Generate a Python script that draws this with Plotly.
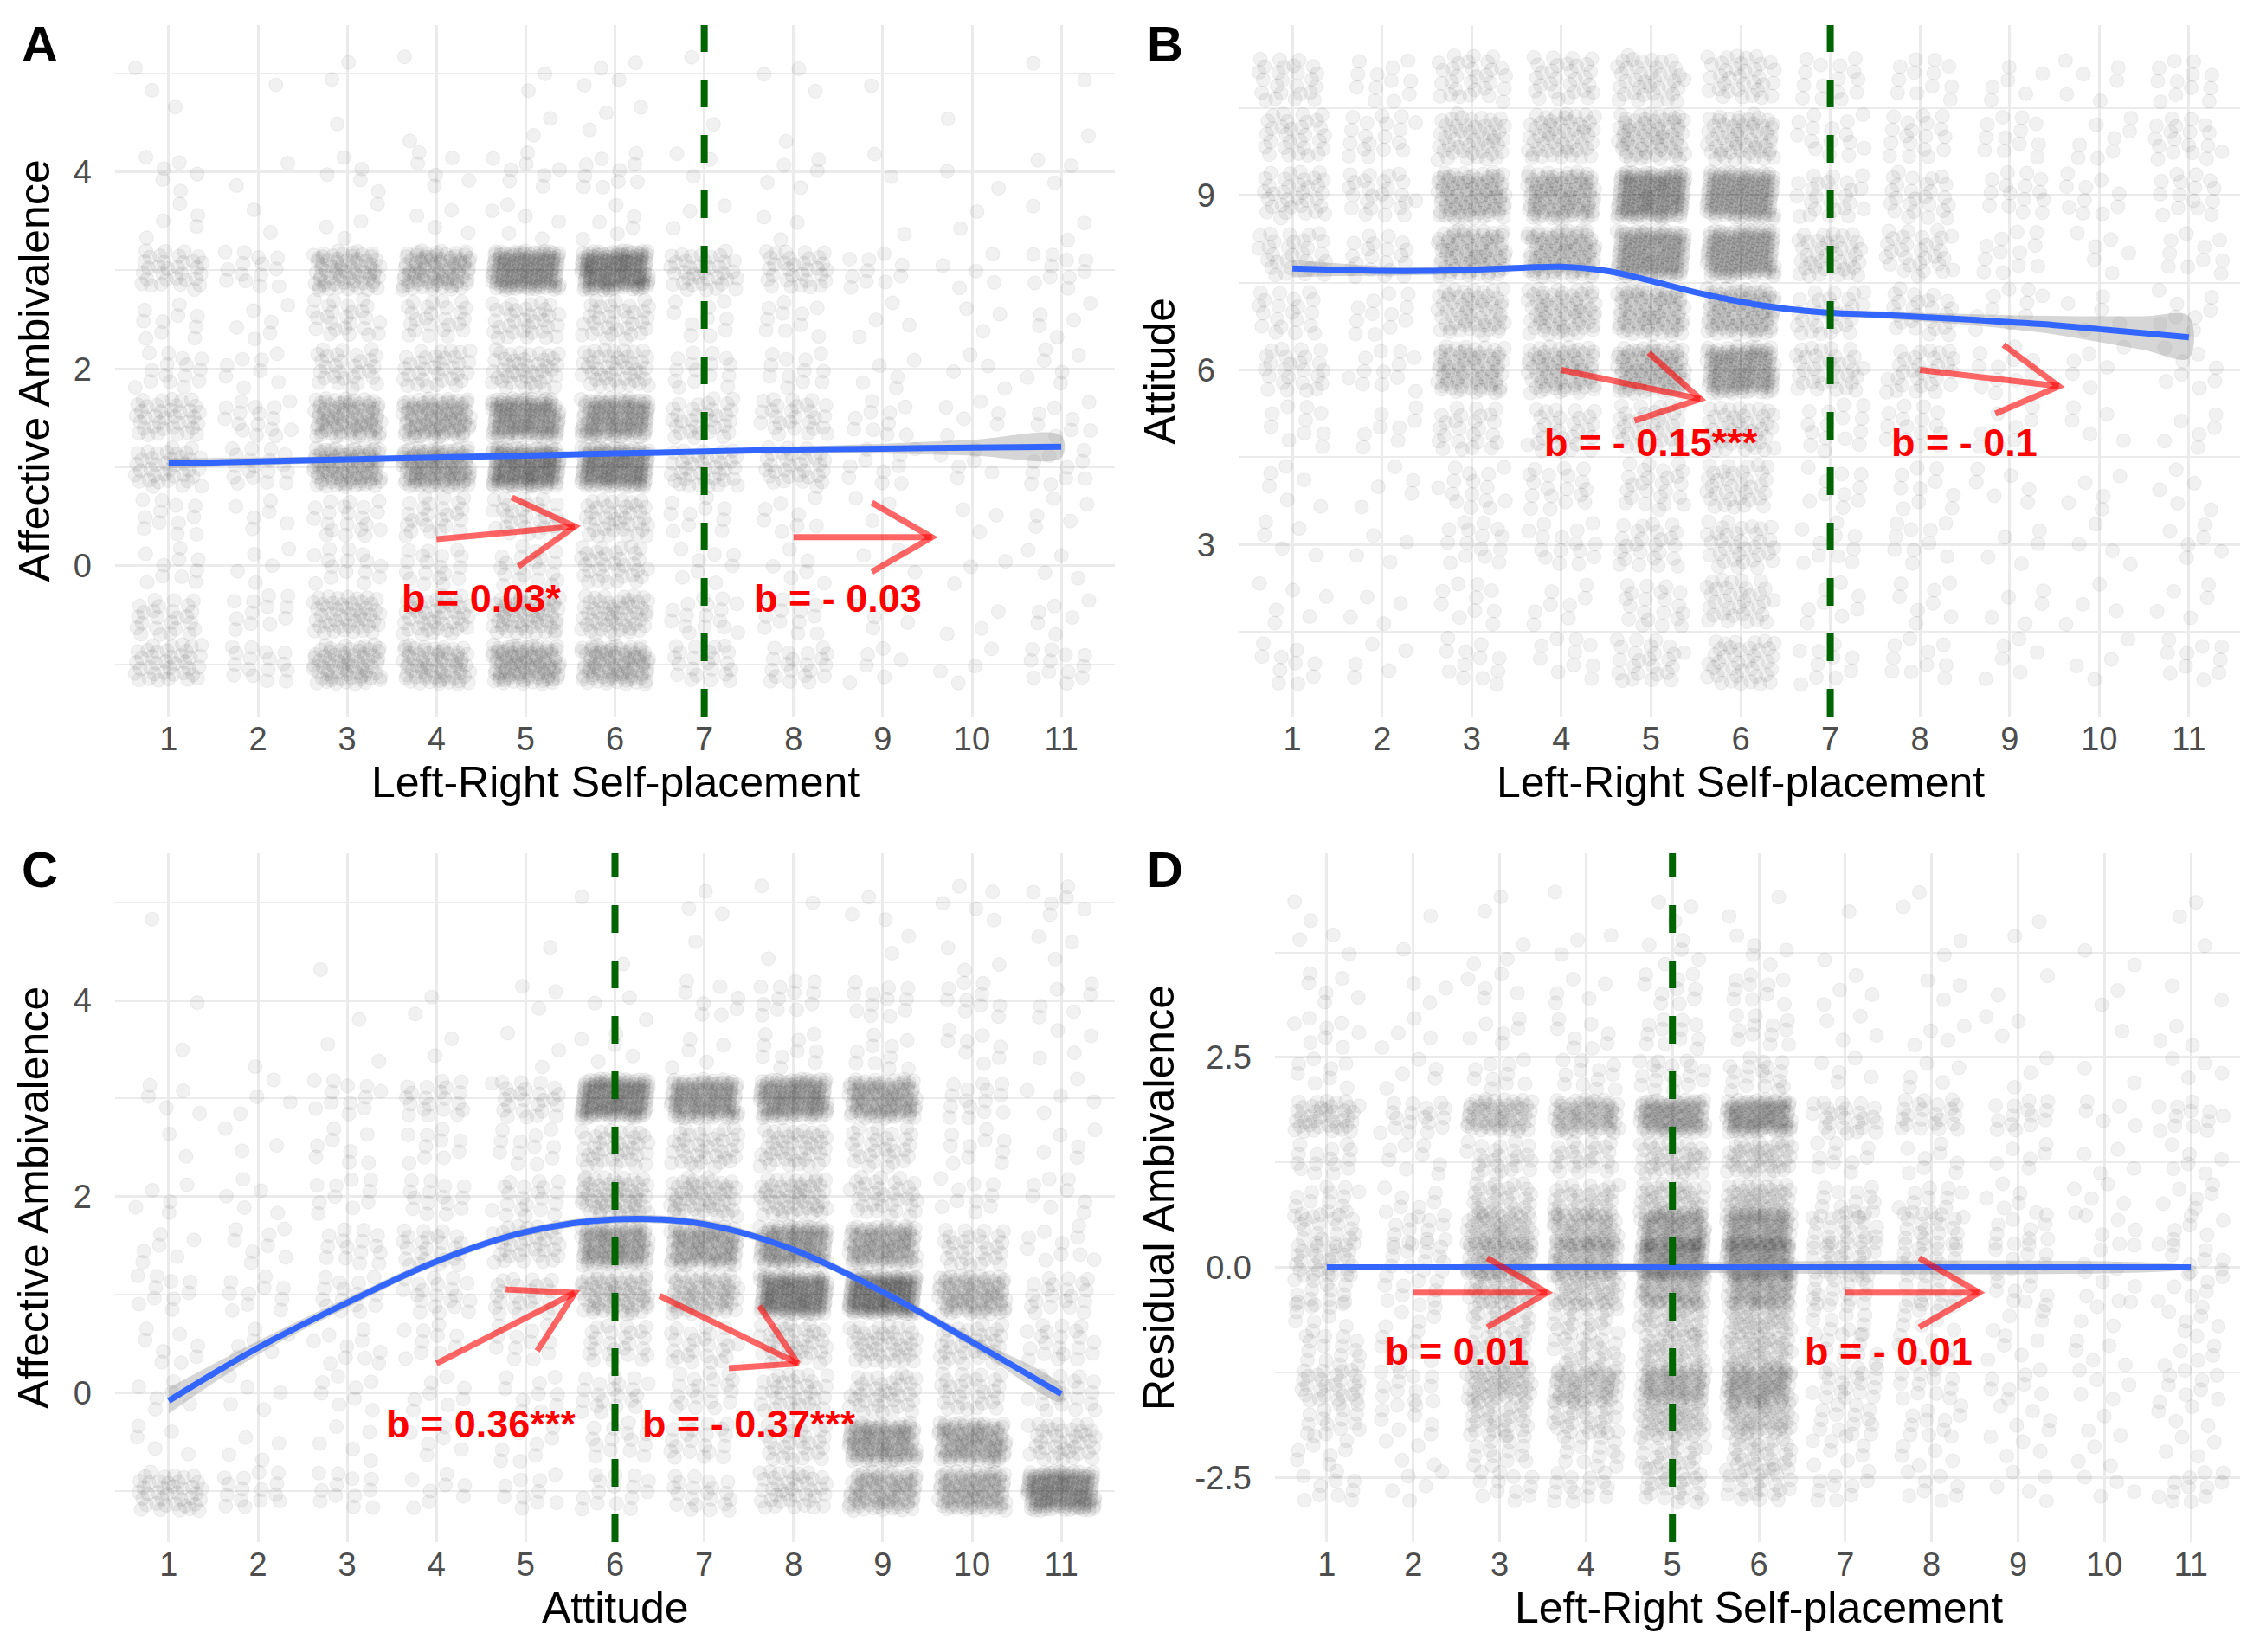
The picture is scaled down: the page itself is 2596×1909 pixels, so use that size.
import plotly.graph_objects as go

W, H = 2596, 1909

# ---- data ----
lr_ticks = [1, 2, 3, 4, 5, 6, 7, 8, 9, 10, 11]
att_ticks = [1, 2, 3, 4, 5, 6, 7, 8, 9, 10, 11]

# panel A: affective ambivalence (rows) by left-right self-placement (cols 1..11)
amb_levels = [5.0, 4.5, 4.0, 3.5, 3.0, 2.5, 2.0, 1.5, 1.0, 0.5, 0.0, -0.5, -1.0]
amb_by_lr = [
    [2, 1, 2, 1, 2, 4, 1, 3, 1, 0, 2],
    [1, 0, 1, 1, 2, 3, 1, 1, 0, 1, 1],
    [6, 2, 5, 6, 8, 10, 3, 5, 2, 2, 3],
    [5, 2, 4, 4, 6, 6, 3, 3, 1, 2, 3],
    [32, 14, 70, 90, 150, 170, 38, 32, 10, 5, 10],
    [10, 6, 25, 25, 35, 35, 10, 10, 4, 3, 5],
    [15, 8, 30, 35, 45, 45, 15, 12, 5, 4, 6],
    [38, 16, 90, 100, 140, 130, 32, 27, 10, 6, 8],
    [38, 18, 100, 120, 170, 160, 38, 32, 10, 6, 10],
    [12, 6, 20, 25, 30, 40, 10, 8, 3, 3, 5],
    [10, 5, 15, 18, 20, 35, 8, 6, 3, 3, 4],
    [25, 12, 50, 45, 60, 55, 16, 12, 5, 3, 6],
    [38, 16, 70, 70, 100, 90, 22, 20, 6, 4, 12],
]

# panel B: attitude (rows) by left-right self-placement
att_levels = [11, 10, 9, 8, 7, 6, 5, 4, 3, 2, 1]
att_by_lr = [
    [25, 12, 30, 30, 40, 35, 15, 12, 6, 6, 12],
    [30, 18, 50, 55, 70, 60, 15, 18, 12, 8, 18],
    [35, 25, 100, 110, 170, 150, 25, 25, 15, 10, 15],
    [30, 20, 90, 100, 150, 150, 40, 30, 12, 6, 10],
    [20, 12, 60, 70, 90, 100, 30, 25, 10, 5, 8],
    [25, 12, 80, 80, 100, 140, 35, 30, 12, 6, 8],
    [10, 8, 25, 30, 35, 45, 15, 15, 8, 5, 6],
    [6, 5, 15, 18, 25, 35, 10, 10, 6, 5, 5],
    [5, 4, 15, 15, 25, 35, 10, 10, 5, 4, 6],
    [6, 4, 10, 8, 20, 35, 8, 8, 5, 4, 5],
    [10, 5, 12, 10, 25, 40, 10, 10, 6, 4, 10],
]

# panel C: affective ambivalence (rows) by attitude
amb_by_att = [
    [1, 0, 0, 0, 0, 1, 3, 2, 3, 5, 6],
    [0, 0, 1, 0, 1, 1, 1, 1, 2, 3, 3],
    [1, 0, 1, 2, 3, 3, 8, 12, 12, 10, 6],
    [1, 1, 2, 2, 3, 5, 5, 10, 10, 8, 4],
    [5, 4, 12, 20, 25, 160, 130, 140, 110, 15, 5],
    [2, 3, 8, 10, 12, 40, 40, 45, 30, 10, 5],
    [5, 5, 10, 15, 20, 60, 55, 55, 35, 10, 8],
    [6, 8, 15, 25, 35, 120, 110, 130, 110, 30, 10],
    [10, 10, 15, 20, 25, 70, 70, 170, 190, 90, 20],
    [8, 6, 10, 10, 12, 25, 25, 40, 45, 35, 20],
    [6, 5, 8, 8, 10, 20, 20, 35, 40, 30, 20],
    [5, 4, 5, 6, 8, 15, 20, 30, 120, 110, 40],
    [40, 15, 12, 8, 10, 15, 20, 40, 90, 100, 160],
]

# panel D: residual ambivalence (rows) by left-right self-placement
resid_levels = [4.3, 3.8, 3.3, 2.8, 2.3, 1.8, 1.3, 0.8, 0.45, 0.1, -0.25,
                -0.6, -1.0, -1.4, -1.8, -2.2, -2.6]
resid_by_lr = [
    [2, 1, 2, 1, 3, 2, 1, 2, 1, 0, 2],
    [3, 1, 3, 3, 5, 5, 1, 2, 1, 2, 1],
    [6, 3, 5, 5, 10, 10, 4, 3, 2, 2, 2],
    [8, 4, 6, 8, 12, 12, 4, 4, 3, 1, 3],
    [8, 5, 10, 12, 18, 18, 5, 5, 3, 2, 4],
    [40, 18, 60, 70, 100, 110, 25, 22, 14, 5, 12],
    [15, 8, 25, 25, 40, 45, 10, 8, 6, 4, 6],
    [15, 8, 30, 35, 45, 50, 15, 12, 6, 5, 6],
    [20, 12, 55, 60, 90, 95, 22, 18, 10, 5, 7],
    [28, 14, 60, 70, 110, 110, 25, 20, 8, 4, 8],
    [15, 10, 40, 45, 70, 80, 18, 14, 8, 5, 7],
    [10, 6, 25, 25, 40, 45, 12, 10, 5, 4, 6],
    [15, 7, 25, 25, 40, 45, 10, 8, 5, 5, 6],
    [28, 12, 50, 60, 80, 90, 20, 12, 8, 5, 8],
    [15, 8, 30, 30, 50, 55, 14, 10, 5, 3, 5],
    [8, 4, 15, 15, 25, 30, 8, 6, 4, 3, 4],
    [10, 5, 12, 15, 25, 25, 10, 8, 5, 4, 12],
]

# smoothed fits (line and half width of the grey band)
fit_a_x = [1, 2, 3, 4, 5, 6, 7, 8, 9, 10, 11]
fit_a_y = [1.04, 1.06, 1.08, 1.10, 1.12, 1.14, 1.16, 1.18, 1.19, 1.20, 1.21]
fit_a_se = [0.05, 0.04, 0.03, 0.02, 0.02, 0.02, 0.02, 0.03, 0.05, 0.08, 0.11]

fit_b_x = [1, 1.5, 2, 2.5, 3, 3.5, 4, 4.5, 5, 5.5, 6, 6.5, 7, 7.5, 8, 8.5, 9, 9.5, 10, 10.5, 11]
fit_b_y = [7.74, 7.72, 7.70, 7.70, 7.72, 7.75, 7.77, 7.70, 7.53, 7.33, 7.17, 7.05,
           6.98, 6.95, 6.91, 6.87, 6.82, 6.77, 6.70, 6.63, 6.56]
fit_b_se = [0.15, 0.11, 0.08, 0.07, 0.06, 0.05, 0.05, 0.05, 0.04, 0.04, 0.04, 0.05,
            0.05, 0.06, 0.07, 0.09, 0.12, 0.16, 0.22, 0.29, 0.36]

fit_c_x = [1, 2, 3, 4, 5, 6, 7, 8, 9, 10, 11]
fit_c_y = [-0.08, 0.46, 0.92, 1.34, 1.64, 1.77, 1.72, 1.46, 1.03, 0.52, -0.01]
fit_c_se = [0.13, 0.07, 0.05, 0.04, 0.04, 0.04, 0.04, 0.04, 0.04, 0.05, 0.08]

fit_d_x = [1, 11]
fit_d_y = [0.0, 0.0]
fit_d_se = [0.01, 0.01]

# arrows (tail -> head) and slope labels
arrows_a = [((4.0, 0.27), (5.55, 0.40)), ((8.0, 0.29), (9.55, 0.29))]
labels_a = [(4.5, -0.33, "b = 0.03*"), (8.5, -0.33, "b = - 0.03")]
arrows_b = [((4.0, 6.0), (5.55, 5.5)), ((8.0, 6.0), (9.55, 5.72))]
labels_b = [(5.0, 4.75, "b = - 0.15***"), (8.5, 4.75, "b = - 0.1")]
arrows_c = [((4.0, 0.30), (5.55, 1.02)), ((6.5, 0.99), (8.05, 0.30))]
labels_c = [(4.5, -0.32, "b = 0.36***"), (7.5, -0.32, "b = - 0.37***")]
arrows_d = [((2.0, -0.30), (3.55, -0.30)), ((7.0, -0.30), (8.55, -0.30))]
labels_d = [(2.5, -1.0, "b = 0.01"), (7.5, -1.0, "b = - 0.01")]

FONT = "Liberation Sans, Arial, sans-serif"

# R2 low-discrepancy steps used to spread points inside each jitter box
R2_A, R2_B = 0.7548776662466927, 0.5698402909980532


def jitter_points(levels, counts, xcats, w, h):
    xs, ys = [], []
    k = 1
    for yv, row in zip(levels, counts):
        for xv, n in zip(xcats, row):
            for _ in range(n):
                u = (0.5 + k * R2_A) % 1.0
                v = (0.5 + k * R2_B) % 1.0
                xs.append(xv + (2 * u - 1) * w)
                ys.append(yv + (2 * v - 1) * h)
                k += 1
    return xs, ys


panels = [
    dict(levels=amb_levels, counts=amb_by_lr, xcats=lr_ticks, jh=0.2,
         fx=fit_a_x, fy=fit_a_y, fse=fit_a_se, vline=7,
         xdom=[125, 1280], ydom=[21, 820], xr=[0.4, 11.6], yr=[-1.53, 5.49],
         yt=[0, 2, 4], ytt=["0", "2", "4"], ym=[-1, 1, 3, 5],
         arrows=arrows_a, labels=labels_a, letter="A",
         xtitle="Left-Right Self-placement", ytitle="Affective Ambivalence"),
    dict(levels=att_levels, counts=att_by_lr, xcats=lr_ticks, jh=0.4,
         fx=fit_b_x, fy=fit_b_y, fse=fit_b_se, vline=7,
         xdom=[1423, 2583], ydom=[21, 820], xr=[0.4, 11.6], yr=[0.05, 11.92],
         yt=[3, 6, 9], ytt=["3", "6", "9"], ym=[1.5, 4.5, 7.5, 10.5],
         arrows=arrows_b, labels=labels_b, letter="B",
         xtitle="Left-Right Self-placement", ytitle="Attitude"),
    dict(levels=amb_levels, counts=amb_by_att, xcats=att_ticks, jh=0.2,
         fx=fit_c_x, fy=fit_c_y, fse=fit_c_se, vline=6,
         xdom=[125, 1280], ydom=[978, 1774], xr=[0.4, 11.6], yr=[-1.52, 5.5],
         yt=[0, 2, 4], ytt=["0", "2", "4"], ym=[-1, 1, 3, 5],
         arrows=arrows_c, labels=labels_c, letter="C",
         xtitle="Attitude", ytitle="Affective Ambivalence"),
    dict(levels=resid_levels, counts=resid_by_lr, xcats=lr_ticks, jh=0.2,
         fx=fit_d_x, fy=fit_d_y, fse=fit_d_se, vline=5,
         xdom=[1465, 2583], ydom=[978, 1774], xr=[0.4, 11.6], yr=[-3.27, 4.93],
         yt=[-2.5, 0, 2.5], ytt=["-2.5", "0.0", "2.5"], ym=[-1.25, 1.25, 3.75],
         arrows=arrows_d, labels=labels_d, letter="D",
         xtitle="Left-Right Self-placement", ytitle="Residual Ambivalence"),
]

fig = go.Figure()
annotations = []
shapes = []

for i, p in enumerate(panels, start=1):
    xa = "x" if i == 1 else f"x{i}"
    ya = "y" if i == 1 else f"y{i}"

    px, py = jitter_points(p["levels"], p["counts"], p["xcats"], 0.38, p["jh"])
    fig.add_trace(go.Scatter(
        x=px, y=py, mode="markers", xaxis=xa, yaxis=ya, hoverinfo="skip",
        marker=dict(size=16, color="rgba(0,0,0,0.055)",
                    line=dict(width=1.2, color="rgba(0,0,0,0.05)")),
    ))

    upper = [v + s for v, s in zip(p["fy"], p["fse"])]
    lower = [v - s for v, s in zip(p["fy"], p["fse"])]
    fig.add_trace(go.Scatter(
        x=p["fx"] + p["fx"][::-1], y=upper + lower[::-1], xaxis=xa, yaxis=ya,
        mode="lines", line=dict(width=0, shape="spline"), fill="toself",
        fillcolor="rgba(153,153,153,0.4)", hoverinfo="skip",
    ))
    fig.add_trace(go.Scatter(
        x=p["fx"], y=p["fy"], xaxis=xa, yaxis=ya, mode="lines",
        line=dict(color="#3366FF", width=7, shape="spline"), hoverinfo="skip",
    ))

    # open arrowheads, 30 degrees, 80 px long
    sx = (p["xdom"][1] - p["xdom"][0]) / (p["xr"][1] - p["xr"][0])
    sy = (p["ydom"][1] - p["ydom"][0]) / (p["yr"][1] - p["yr"][0])
    ax, ay = [], []
    for (tx, ty), (hx, hy) in p["arrows"]:
        dx, dy = (tx - hx) * sx, (ty - hy) * sy
        ln = (dx * dx + dy * dy) ** 0.5
        ux, uy = dx / ln, dy / ln
        c, s = 0.8660254, 0.5
        b1 = (ux * c - uy * s, ux * s + uy * c)
        b2 = (ux * c + uy * s, -ux * s + uy * c)
        ax += [tx, hx, None,
               hx + b1[0] * 80 / sx, hx, hx + b2[0] * 80 / sx, None]
        ay += [ty, hy, None,
               hy + b1[1] * 80 / sy, hy, hy + b2[1] * 80 / sy, None]
    fig.add_trace(go.Scatter(
        x=ax, y=ay, xaxis=xa, yaxis=ya, mode="lines", hoverinfo="skip",
        line=dict(color="rgba(255,0,0,0.6)", width=7),
    ))

    for lx, ly, txt in p["labels"]:
        annotations.append(dict(
            x=lx, y=ly, xref=xa, yref=ya, text=txt, showarrow=False,
            xanchor="center", yanchor="middle",
            font=dict(family=FONT, size=45, color="#FF0000", weight="bold"),
        ))

    shapes.append(dict(
        type="line", xref=xa, yref=f"{ya} domain", x0=p["vline"], x1=p["vline"],
        y0=0, y1=1, line=dict(color="#006400", width=8, dash="32px,32px"),
    ))

    xd = [p["xdom"][0] / W, p["xdom"][1] / W]
    yd = [1 - p["ydom"][1] / H, 1 - p["ydom"][0] / H]
    fig.update_layout({
        ("xaxis" if i == 1 else f"xaxis{i}"): dict(
            domain=xd, anchor=ya, range=p["xr"], tickvals=p["xcats"],
            showgrid=True, gridcolor="#EBEBEB", gridwidth=3.3, zeroline=False,
            showline=False, ticks="", ticklabelstandoff=0,
            tickfont=dict(family=FONT, size=38, color="#4D4D4D"),
        ),
        ("yaxis" if i == 1 else f"yaxis{i}"): dict(
            domain=yd, anchor=xa, range=p["yr"], tickvals=p["yt"],
            ticktext=p["ytt"], showgrid=True, gridcolor="#EBEBEB", gridwidth=3.3,
            zeroline=False, showline=False, ticks="", ticklabelstandoff=26,
            tickfont=dict(family=FONT, size=38, color="#4D4D4D"),
            minor=dict(tickvals=p["ym"], showgrid=True, gridcolor="#EBEBEB",
                       gridwidth=1.7, ticks=""),
        ),
    })

    xc = (p["xdom"][0] + p["xdom"][1]) / 2 / W
    yc = 1 - (p["ydom"][0] + p["ydom"][1]) / 2 / H
    x_off = 0 if i in (1, 3) else 1300
    y_off = 0 if i in (1, 2) else 954
    annotations.append(dict(
        x=xc, y=1 - (896 + y_off) / H, xref="paper", yref="paper",
        text=p["xtitle"], showarrow=False, xanchor="center", yanchor="middle",
        font=dict(family=FONT, size=50, color="black"),
    ))
    annotations.append(dict(
        x=(31 + x_off) / W, y=yc, xref="paper", yref="paper", textangle=-90,
        text=p["ytitle"], showarrow=False, xanchor="center", yanchor="middle",
        font=dict(family=FONT, size=50, color="black"),
    ))
    annotations.append(dict(
        x=(38 + x_off) / W, y=1 - (42 + y_off) / H, xref="paper", yref="paper",
        text=p["letter"], showarrow=False, xanchor="center", yanchor="middle",
        font=dict(family=FONT, size=58, color="black", weight="bold"),
    ))

fig.update_layout(
    width=W, height=H, margin=dict(l=0, r=0, t=0, b=0),
    paper_bgcolor="white", plot_bgcolor="white", showlegend=False,
    hovermode=False, annotations=annotations, shapes=shapes,
)

fig.write_html("out.html")
